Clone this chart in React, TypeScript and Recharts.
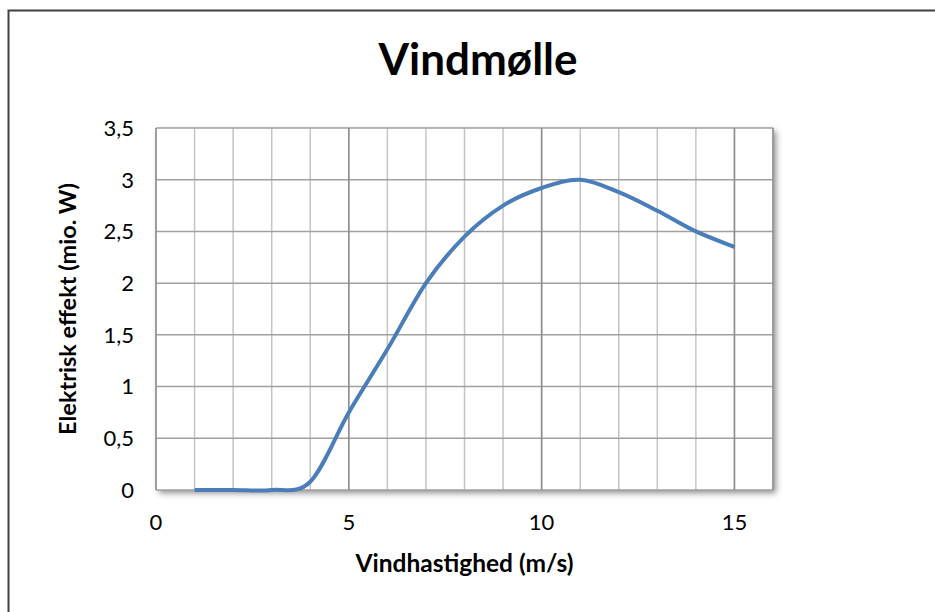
import React from 'react';
import { LineChart, Line, XAxis, YAxis, CartesianGrid } from 'recharts';

const windSpeeds = [1, 2, 3, 4, 5, 6, 7, 8, 9, 10, 11, 12, 13, 14, 15];
const powerMW = [0, 0, 0, 0.08, 0.75, 1.36, 2.0, 2.45, 2.75, 2.92, 3.0, 2.88, 2.7, 2.5, 2.35];
const xTicks = [0, 5, 10, 15];
const minorXTicks = [0, 1, 2, 3, 4, 5, 6, 7, 8, 9, 10, 11, 12, 13, 14, 15, 16];
const yTicks = [0, 0.5, 1, 1.5, 2, 2.5, 3, 3.5];

const chartTitle = 'Vindmølle';
const xTitle = 'Vindhastighed (m/s)';
const yTitle = 'Elektrisk effekt (mio. W)';

const data = windSpeeds.map((x, i) => ({ x, y: powerMW[i] }));

const FONT = 'Lato, "Open Sans", sans-serif';

// Excel-like smoothed line (Catmull-Rom style Bezier through the scaled points)
const smoothCurve = (context: any) => {
  let pts: number[][] = [];
  return {
    areaStart() {},
    areaEnd() {},
    lineStart() {
      pts = [];
    },
    lineEnd() {
      if (!pts.length) return;
      context.moveTo(pts[0][0], pts[0][1]);
      for (let i = 0; i < pts.length - 1; i++) {
        const p0 = pts[i - 1] || pts[i];
        const p1 = pts[i];
        const p2 = pts[i + 1];
        const p3 = pts[i + 2] || p2;
        const c1x = p1[0] + (p2[0] - p0[0]) / 6;
        const c1y = p1[1] + (p2[1] - p0[1]) / 6;
        const c2x = p2[0] - (p3[0] - p1[0]) / 6;
        const c2y = p2[1] - (p3[1] - p1[1]) / 6;
        context.bezierCurveTo(c1x, c1y, c2x, c2y, p2[0], p2[1]);
      }
    },
    point(x: number, y: number) {
      pts.push([+x, +y]);
    },
  };
};

const YLabel = (props: any) => {
  const vb = props.viewBox || { x: 40, y: 128, width: 116, height: 362 };
  const cx = vb.x + 27;
  const cy = vb.y + vb.height / 2;
  return (
    <text
      x={cx}
      y={cy}
      transform={`rotate(-90 ${cx} ${cy})`}
      textAnchor="middle"
      dominantBaseline="central"
      fontFamily={FONT}
      fontWeight="bold"
      fontSize={23.5}
      fill="#000"
    >
      {yTitle}
    </text>
  );
};

export default function App() {
  return (
    <div style={{ position: 'absolute', left: 0, top: 0, width: 935, height: 612, background: '#fff' }}>
      <style>{`.recharts-cartesian-grid-bg, .grid-bg-shadow .recharts-cartesian-grid > rect { filter: drop-shadow(3px 3px 3px rgba(0,0,0,0.45)); }`}</style>
      <svg width={935} height={612} style={{ position: 'absolute', left: 0, top: 0 }}>
        <path d="M8.5,612 V10.5 H935" fill="none" stroke="#404040" strokeWidth={2} />
        <text x={478} y={75} textAnchor="middle" fontFamily={FONT} fontWeight="bold" fontSize={44} fill="#000">
          {chartTitle}
        </text>
      </svg>
      <div className="grid-bg-shadow" style={{ position: 'absolute', left: 0, top: 0 }}>
        <LineChart
          width={935}
          height={612}
          data={data}
          margin={{ top: 128, right: 162, bottom: 37, left: 40 }}
        >
          <XAxis xAxisId="minor" type="number" dataKey="x" domain={[0, 16]} ticks={minorXTicks} hide />
          <CartesianGrid xAxisId="minor" horizontal={false} stroke="#c4c4c4" strokeWidth={1.5} fill="#fff" fillOpacity={1} />
          <CartesianGrid vertical={false} stroke="#a0a0a0" strokeWidth={1.5} />
          <CartesianGrid horizontal={false} stroke="#8c8c8c" strokeWidth={1.5} />
          <XAxis
            type="number"
            dataKey="x"
            domain={[0, 16]}
            ticks={xTicks}
            axisLine={false}
            tickLine={false}
            tickSize={0}
            tickMargin={24}
            height={85}
            tick={{ fontFamily: FONT, fontSize: 22, fill: '#000' }}
            label={{
              value: xTitle,
              position: 'insideBottom',
              offset: 3,
              style: { fontFamily: FONT, fontWeight: 'bold', fontSize: 24.5, fill: '#000' },
            }}
          />
          <YAxis
            type="number"
            domain={[0, 3.5]}
            ticks={yTicks}
            axisLine={false}
            tickLine={false}
            tickSize={0}
            tickMargin={22}
            width={116}
            tickFormatter={(v: number) => String(v).replace('.', ',')}
            tick={{ fontFamily: FONT, fontSize: 22, fill: '#000' }}
            label={<YLabel />}
          />
          <Line
            type={smoothCurve as any}
            dataKey="y"
            stroke="#4a7ebb"
            strokeWidth={4}
            dot={false}
            activeDot={false}
            isAnimationActive={false}
          />
        </LineChart>
      </div>
    </div>
  );
}
